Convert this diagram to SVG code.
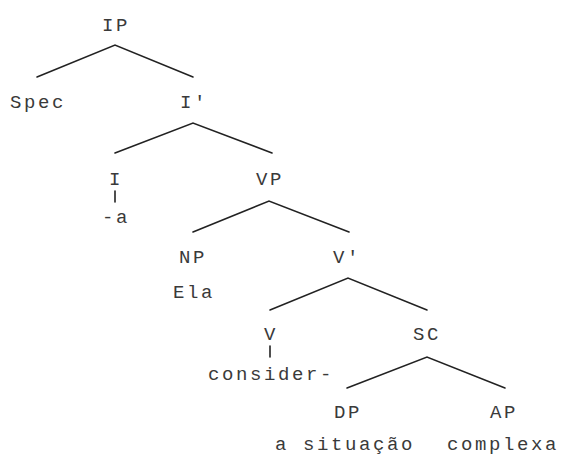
<svg xmlns="http://www.w3.org/2000/svg" width="561" height="457" viewBox="0 0 561 457">
  <style>
    .lbl { font-family: "Courier New", "Liberation Mono", monospace; font-size: 19px; letter-spacing: 2.6px; fill: #3a3a3a; text-anchor: middle; }
    .edge { stroke: #222; stroke-width: 1.6; fill: none; stroke-linecap: round; }
  </style>
  <rect width="561" height="457" fill="#fff"/>

  <!-- branches of the tree -->
  <g id="connectors">
    <polyline class="edge" points="37,77 115,45 193,77"/>
    <polyline class="edge" points="115,153 193,123 272,153"/>
    <polyline class="edge" points="193,232 269,201 349,232"/>
    <polyline class="edge" points="270,310 348,278 427,310"/>
    <polyline class="edge" points="347,388 427,357 505,388"/>
    <line class="edge" x1="115" y1="191" x2="115" y2="202"/>
    <line class="edge" x1="270" y1="346" x2="270" y2="357"/>
  </g>

  <g id="IP"><text class="lbl" x="116" y="31">IP</text></g>
  <g id="Spec"><text class="lbl" x="38" y="108">Spec</text></g>
  <g id="Ibar"><text class="lbl" x="194" y="108">I'</text></g>
  <g id="I"><text class="lbl" x="116" y="185">I</text><text class="lbl" x="116" y="223">-a</text></g>
  <g id="VP"><text class="lbl" x="270" y="185">VP</text></g>
  <g id="NP"><text class="lbl" x="193" y="263">NP</text><text class="lbl" x="194" y="298">Ela</text></g>
  <g id="Vbar"><text class="lbl" x="347" y="263">V'</text></g>
  <g id="V"><text class="lbl" x="271" y="340">V</text><text class="lbl" x="271" y="380">consider-</text></g>
  <g id="SC"><text class="lbl" x="427" y="340">SC</text></g>
  <g id="DP"><text class="lbl" x="348" y="418">DP</text><text class="lbl" x="345" y="450">a situação</text></g>
  <g id="AP"><text class="lbl" x="504" y="418">AP</text><text class="lbl" x="503" y="450">complexa</text></g>
</svg>
